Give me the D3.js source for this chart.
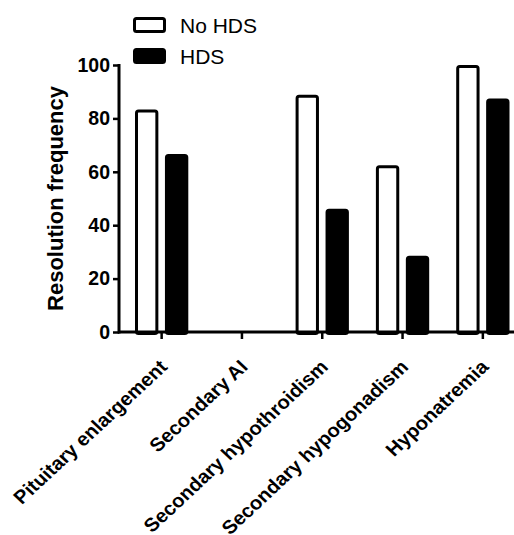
<!DOCTYPE html>
<html>
<head>
<meta charset="utf-8">
<script src="https://cdn.jsdelivr.net/npm/d3@7"></script>
<style>
  body { margin: 0; background: #fff; }
  svg { font-family: Arial, "Liberation Sans", sans-serif; }
</style>
</head>
<body>
<div id="chart"></div>
<script>
const width = 514
const height = 535

// data
const categories = ["Pituitary enlargement", "Secondary AI", "Secondary hypothroidism", "Secondary hypogonadism", "Hyponatremia"]
const series = ["No HDS", "HDS"]
const noHds = [83.3, 0, 88.9, 62.5, 100]
const hds = [66.7, 0, 46.2, 28.6, 87.5]
const yTicks = [0, 20, 40, 60, 80, 100]

const values = [noHds, hds]
const fills = ["#fff", "#000"]

const svg = d3.select("div#chart").append("svg").attr("width", width).attr("height", height)

const x0 = d3.scaleBand().domain(categories).range([121.5, 523])
const x1 = d3.scaleBand().domain(series).range([13.5, 66.8]).paddingInner(0.22)
const y = d3.scaleLinear().domain([0, 100]).range([332, 65])

// bars
const groups = svg.append("g").selectAll("g").data(categories).enter()
    .append("g")
    .attr("transform", d => `translate(${x0(d)},0)`)

groups.selectAll("rect")
    .data((c, i) => series.map((s, j) => ({ s, v: values[j][i], j })))
    .enter()
    .filter(d => d.v > 0)
    .append("rect")
    .attr("x", d => x1(d.s) + 1.5)
    .attr("width", x1.bandwidth() - 3)
    .attr("y", d => y(d.v) + 1.5)
    .attr("height", d => y(0) - y(d.v))
    .attr("rx", 2)
    .attr("fill", d => fills[d.j])
    .attr("stroke", "#000")
    .attr("stroke-width", 3)

// y axis
const yAxis = d3.axisLeft(y).tickValues(yTicks).tickSize(6).tickSizeOuter(0).tickPadding(3)
const yg = svg.append("g").attr("transform", "translate(119,0)").call(yAxis)
yg.select(".domain").attr("stroke-width", 3).attr("d", `M0,${y(100) - 1}V${y(0) + 1.5}`)
yg.selectAll(".tick line").attr("stroke-width", 2.5)
yg.selectAll(".tick text").attr("font-size", 19.5).attr("font-weight", "bold").attr("fill", "#000")

// x axis
const xAxis = d3.axisBottom(x0).tickSize(7).tickSizeOuter(0).tickFormat("")
const xg = svg.append("g").attr("transform", "translate(0,332)").call(xAxis)
xg.select(".domain").attr("stroke-width", 3).attr("d", "M118,0H523")
xg.selectAll(".tick line").attr("stroke-width", 2.5)

svg.append("g").selectAll("text").data(categories).enter()
    .append("text")
    .attr("transform", d => `translate(${x0(d) + x0.bandwidth() / 2 + 7},368) scale(1.07,1) rotate(-45)`)
    .attr("text-anchor", "end")
    .attr("font-size", 19)
    .attr("font-weight", "bold")
    .text(d => d)

// y title
svg.append("text")
    .attr("transform", `translate(63,${y(50)}) rotate(-90)`)
    .attr("text-anchor", "middle")
    .attr("font-size", 22)
    .attr("font-weight", "bold")
    .text("Resolution frequency")

// legend
const legend = svg.append("g").selectAll("g").data(series).enter()
    .append("g")
    .attr("transform", (d, i) => `translate(134.5,${18.5 + i * 31})`)

legend.append("rect")
    .attr("width", 30)
    .attr("height", 13)
    .attr("rx", 2)
    .attr("fill", (d, i) => fills[i])
    .attr("stroke", "#000")
    .attr("stroke-width", 3)

legend.append("text")
    .attr("x", 45.5)
    .attr("y", 14)
    .attr("font-size", 21)
    .text(d => d)
</script>
</body>
</html>
